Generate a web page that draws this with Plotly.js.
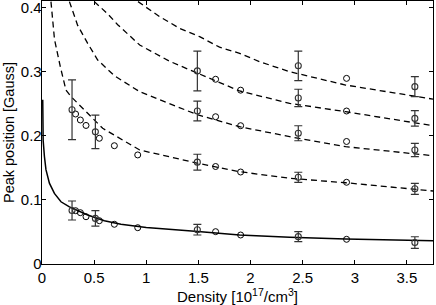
<!DOCTYPE html>
<html>
<head>
<meta charset="utf-8">
<script src="https://cdn.plot.ly/plotly-3.0.1.min.js"></script>
<style>html,body{margin:0;padding:0;background:#fff;}#chart{width:436px;height:305px;}</style>
</head>
<body>
<div id="chart"></div>
<script>
// ---- fitted curves ----
const curve0X = [0.007, 0.011, 0.023, 0.038, 0.071, 0.119, 0.182, 0.263, 0.438, 0.598, 0.757, 1.0, 1.496, 1.895, 2.375, 2.912, 3.75];
const curve0Y = [0.256, 0.193, 0.168, 0.147, 0.126, 0.110, 0.097, 0.089, 0.0764, 0.0675, 0.0619, 0.057, 0.0505, 0.0452, 0.0416, 0.039, 0.0363];
const curve1X = [0.086, 0.10, 0.12, 0.175, 0.23, 0.278, 0.438, 0.582, 0.937, 1.496, 1.895, 2.375, 2.912, 3.75];
const curve1Y = [0.409, 0.38, 0.35, 0.308, 0.271, 0.261, 0.235, 0.2115, 0.1777, 0.157, 0.1439, 0.1336, 0.1267, 0.1138];
const curve2X = [0.263, 0.342, 0.438, 0.534, 0.694, 0.937, 1.496, 1.895, 2.375, 2.912, 3.75];
const curve2Y = [0.409, 0.372, 0.344, 0.318, 0.2935, 0.2686, 0.2323, 0.2141, 0.1985, 0.1829, 0.1688];
const curve3X = [0.502, 0.63, 0.726, 0.937, 1.224, 1.496, 1.895, 2.375, 2.912, 3.75];
const curve3Y = [0.409, 0.39, 0.373, 0.3414, 0.316, 0.2972, 0.2697, 0.2505, 0.2374, 0.2156];
const curve4X = [0.921, 1.128, 1.32, 1.512, 1.703, 1.895, 2.087, 2.375, 2.912, 3.75];
const curve4Y = [0.409, 0.3856, 0.3674, 0.3544, 0.338, 0.3284, 0.3154, 0.2998, 0.279, 0.257];

// ---- measured points without error bars ----
const dotDensLow = [0.322, 0.368, 0.422, 0.55, 0.694, 0.918, 1.665, 1.905, 2.921];
const dotPeak0 = [0.0831, 0.080, 0.0737, 0.0675, 0.0619, 0.0566, 0.0504, 0.0452, 0.0385];
const dotPeak1 = [0.2338, 0.2245, 0.216, 0.196, 0.1844, 0.170, 0.152, 0.1434, 0.1274];
const dotDensHigh = [1.665, 1.905, 2.921];
const dotPeak2 = [0.2296, 0.2156, 0.191];
const dotPeak3 = [0.288, 0.271, 0.2385];
const dotDensTop = [2.921];
const dotPeak4 = [0.2894];

// ---- measured points with error bars ----
const barDensLow = [0.288, 0.512, 1.49, 2.458, 3.576];
const barPeak0 = [0.0834, 0.0711, 0.0535, 0.0426, 0.0335];
const barErr0 = [0.0148, 0.012, 0.0083, 0.0078, 0.009];
const barPeak1 = [0.2405, 0.206, 0.1588, 0.1352, 0.1172];
const barErr1 = [0.0465, 0.026, 0.0123, 0.0078, 0.0086];
const barDensHigh = [1.49, 2.458, 3.576];
const barPeak2 = [0.2385, 0.2038, 0.1777];
const barErr2 = [0.0155, 0.0117, 0.0104];
const barPeak3 = [0.301, 0.2588, 0.227];
const barErr3 = [0.031, 0.0136, 0.012];
const barDensTop = [2.458, 3.576];
const barPeak4 = [0.309, 0.2765];
const barErr4 = [0.023, 0.0155];

const xTicks = [0, 0.5, 1, 1.5, 2, 2.5, 3, 3.5];
const yTicks = [0, 0.1, 0.2, 0.3, 0.4];

const traces = [];
function curve(x, y, dash, w) {
  traces.push({x: x, y: y, type: 'scatter', mode: 'lines', hoverinfo: 'skip',
    line: {color: '#000', width: w, dash: dash, shape: 'linear'}, showlegend: false});
}
curve(curve0X, curve0Y, 'solid', 1.5);
curve(curve1X, curve1Y, '6px,4px', 1.3);
curve(curve2X, curve2Y, '6px,4px', 1.3);
curve(curve3X, curve3Y, '6px,4px', 1.3);
curve(curve4X, curve4Y, '6px,4px', 1.3);

const mk = {symbol: 'circle-open', size: 6, color: '#000', line: {width: 1, color: '#000'}};
function dots(x, y) {
  traces.push({x: x, y: y, type: 'scatter', mode: 'markers', marker: mk, showlegend: false});
}
function bars(x, y, e) {
  traces.push({x: x, y: y, type: 'scatter', mode: 'markers',
    marker: {symbol: 'circle-open', size: 6, color: '#333', line: {width: 1.1, color: '#333'}},
    error_y: {type: 'data', array: e, visible: true, color: '#333', thickness: 1.2, width: 4},
    showlegend: false});
}
dots(dotDensLow, dotPeak0);
dots(dotDensLow, dotPeak1);
dots(dotDensHigh, dotPeak2);
dots(dotDensHigh, dotPeak3);
dots(dotDensTop, dotPeak4);
bars(barDensLow, barPeak0, barErr0);
bars(barDensLow, barPeak1, barErr1);
bars(barDensHigh, barPeak2, barErr2);
bars(barDensHigh, barPeak3, barErr3);
bars(barDensTop, barPeak4, barErr4);

const font = {family: 'Liberation Sans, Arial, Helvetica, sans-serif', size: 15, color: '#000'};
const layout = {
  width: 436, height: 305,
  margin: {l: 42, r: 3, t: 1, b: 41, pad: 0},
  paper_bgcolor: '#fff', plot_bgcolor: '#fff',
  font: font,
  showlegend: false,
  xaxis: {
    range: [0, 3.75], tickvals: xTicks, ticktext: xTicks.map(String),
    ticks: 'inside', ticklen: 4, tickwidth: 1, tickcolor: '#000',
    showline: true, linecolor: '#000', linewidth: 1.3, mirror: 'ticks',
    showgrid: false, zeroline: false, automargin: false, ticklabeloverflow: 'allow',
    tickfont: {family: font.family, size: 15, color: '#000'},
    title: {text: 'Density [10<sup>17</sup>/cm<sup>3</sup>]', standoff: 4,
      font: {family: font.family, size: 15, color: '#000'}}
  },
  yaxis: {
    range: [0, 0.41], tickvals: yTicks, ticktext: yTicks.map(String),
    ticks: 'inside', ticklen: 4, tickwidth: 1, tickcolor: '#000',
    showline: true, linecolor: '#000', linewidth: 1.3, mirror: 'ticks',
    showgrid: false, zeroline: false, automargin: false, ticklabeloverflow: 'allow',
    ticklabelstandoff: -4,
    tickfont: {family: font.family, size: 15, color: '#000'},
    title: {text: 'Peak position [Gauss]', standoff: 2,
      font: {family: font.family, size: 14.5, color: '#000'}}
  }
};
Plotly.newPlot('chart', traces, layout, {staticPlot: true, displayModeBar: false});
</script>
</body>
</html>
